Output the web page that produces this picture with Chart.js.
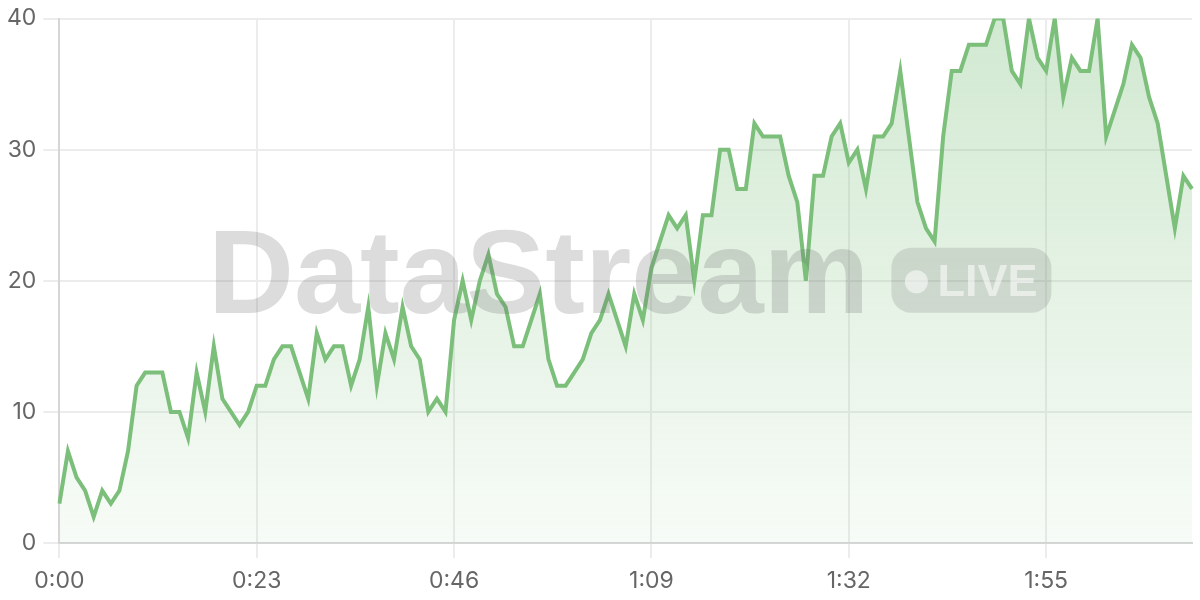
<!DOCTYPE html>
<html>
<head>
<meta charset="utf-8">
<script src="https://cdn.jsdelivr.net/npm/chart.js@4/dist/chart.umd.min.js"></script>
<style>
  html, body { margin: 0; padding: 0; background: #fff; }
  #wrap { width: 1200px; height: 600px; position: relative; }
</style>
</head>
<body>
<div id="wrap"><canvas id="streamChart"></canvas></div>
<script>
// readings, one per second
const values = [
  3, 7, 5, 4, 2, 4, 3, 4, 7, 12, 13, 13, 13, 10, 10, 8, 13, 10, 15, 11,
  10, 9, 10, 12, 12, 14, 15, 15, 13, 11, 16, 14, 15, 15, 12, 14, 18, 12, 16, 14,
  18, 15, 14, 10, 11, 10, 17, 20, 17, 20, 22, 19, 18, 15, 15, 17, 19, 14, 12, 12,
  13, 14, 16, 17, 19, 17, 15, 19, 17, 21, 23, 25, 24, 25, 20, 25, 25, 30, 30, 27,
  27, 32, 31, 31, 31, 28, 26, 20, 28, 28, 31, 32, 29, 30, 27, 31, 31, 32, 36, 31,
  26, 24, 23, 31, 36, 36, 38, 38, 38, 40, 40, 36, 35, 40, 37, 36, 40, 34, 37, 36,
  36, 40, 31, 33, 35, 38, 37, 34, 32, 28, 24, 28, 27
];
// x categories: elapsed time m:ss
const seconds = values.map((v, i) => Math.floor(i / 60) + ':' + String(i % 60).padStart(2, '0'));
const tickLabels = ['0:00', '0:23', '0:46', '1:09', '1:32', '1:55'];
const yTicks = [0, 10, 20, 30, 40];

const lineColor = '#7bbf7b';
const tickFont = { family: 'Inter, "Liberation Sans", sans-serif', size: 23, lineHeight: 1 };

// watermark drawn over the plot
const watermark = {
  id: 'watermark',
  afterDatasetsDraw(chart) {
    const { ctx, chartArea: a } = chart;
    const cx = (a.left + a.right) / 2 + 4;
    const cy = (a.top + a.bottom) / 2;
    ctx.save();
    ctx.font = 'bold 119px "Liberation Sans", Arial, sans-serif';
    const tw = ctx.measureText('DataStream').width;
    const pillW = 160, pillH = 65, gap = 22;
    const x0 = cx - (tw + gap + pillW) / 2;
    ctx.fillStyle = 'rgba(110,110,110,0.24)';
    ctx.textBaseline = 'alphabetic';
    ctx.fillText('DataStream', x0, cy + 32);

    const px = x0 + tw + gap, py = cy - 33;
    ctx.beginPath();
    ctx.roundRect(px, py, pillW, pillH, 20);
    ctx.fillStyle = 'rgba(110,110,110,0.2)';
    ctx.fill();

    ctx.fillStyle = 'rgba(255,255,255,0.55)';
    ctx.beginPath();
    ctx.arc(px + 25, cy + 1, 11.5, 0, Math.PI * 2);
    ctx.fill();
    ctx.font = 'bold 45px "Liberation Sans", Arial, sans-serif';
    ctx.fillText('LIVE', px + 46, cy + 15);
    ctx.restore();
  }
};

const ctx = document.getElementById('streamChart').getContext('2d');
new Chart(ctx, {
  type: 'line',
  data: {
    labels: seconds,
    datasets: [{
      data: values,
      borderColor: lineColor,
      borderWidth: 4,
      pointRadius: 0,
      tension: 0,
      fill: 'origin',
      backgroundColor: (c) => {
        const area = c.chart.chartArea;
        if (!area) return 'rgba(123,191,123,0.2)';
        const g = c.chart.ctx.createLinearGradient(0, area.top, 0, area.bottom);
        g.addColorStop(0, 'rgba(123,191,123,0.35)');
        g.addColorStop(1, 'rgba(123,191,123,0.06)');
        return g;
      }
    }]
  },
  options: {
    responsive: true,
    maintainAspectRatio: false,
    animation: false,
    layout: { padding: { top: 15, right: 8, left: 0, bottom: -5 } },
    plugins: {
      legend: { display: false },
      tooltip: { enabled: false }
    },
    scales: {
      x: {
        grid: { color: '#ececec', lineWidth: 2, tickLength: 15 },
        border: { color: '#d6d6d6', width: 2 },
        ticks: {
          autoSkip: false,
          maxRotation: 0,
          padding: 12,
          color: '#666',
          font: tickFont,
          callback: (val, i) => tickLabels.includes(seconds[i]) ? seconds[i] : null
        }
      },
      y: {
        min: yTicks[0],
        max: yTicks[yTicks.length - 1],
        grid: { color: '#ececec', lineWidth: 2, tickLength: 16 },
        border: { color: '#d6d6d6', width: 2 },
        ticks: {
          stepSize: 10,
          padding: 7,
          color: '#666',
          font: tickFont
        }
      }
    }
  },
  plugins: [watermark]
});
</script>
</body>
</html>
